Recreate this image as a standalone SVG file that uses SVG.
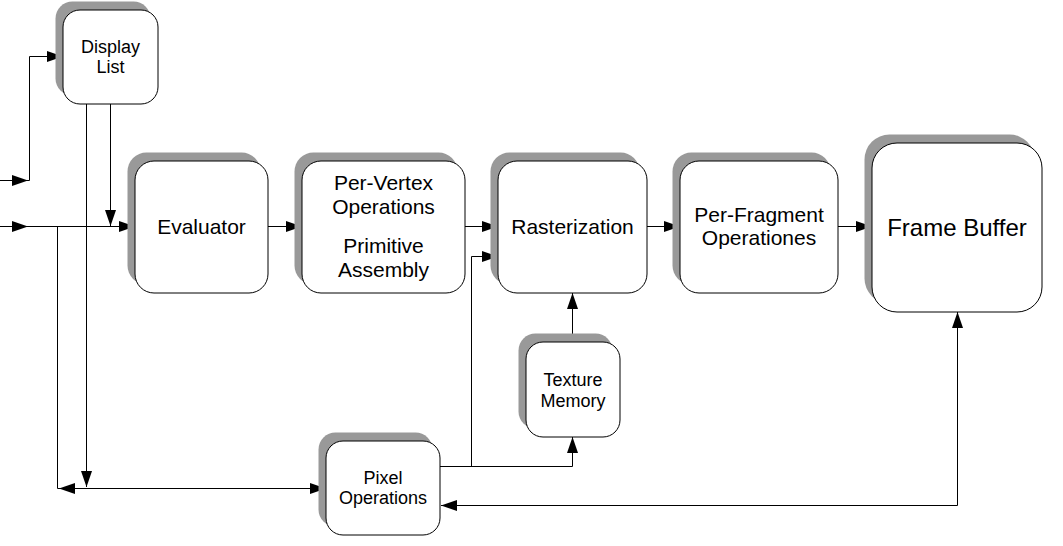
<svg xmlns="http://www.w3.org/2000/svg" xmlns:xlink="http://www.w3.org/1999/xlink" width="1063" height="546" viewBox="0 0 1063 546">
<style>
.sh{fill:#999999;stroke:none}
.bx{fill:#ffffff;stroke:#000000;stroke-width:1}
.t{font-family:"Liberation Sans",Arial,sans-serif;fill:#000000;text-anchor:middle}
.m{font-size:21px}
.s{font-size:18px}
.l{font-size:24px}
.c{fill:none;stroke:#000000;stroke-width:1}
.ah{fill:#000000;stroke:none}
</style>
<defs>
<path id="ah" d="M0,0 L-16,-5.5 L-16,5.5 Z"/>
</defs>
<rect width="1063" height="546" fill="#ffffff"/>

<g id="connectors">
<path class="c" d="M0,180.5 H29.5 V56.5 H63"/>
<path class="c" d="M0,226.5 H135"/>
<path class="c" d="M110.5,104 V226"/>
<path class="c" d="M86.5,104 V487"/>
<path class="c" d="M326,488.5 H57.5 V227"/>
<path class="c" d="M268,226.5 H302"/>
<path class="c" d="M465,226.5 H498"/>
<path class="c" d="M440,466.5 H572.5 V437"/>
<path class="c" d="M471.5,466.5 V256.5 H498"/>
<path class="c" d="M572.5,342 V293"/>
<path class="c" d="M647,226.5 H680"/>
<path class="c" d="M838,226.5 H872"/>
<path class="c" d="M441,505.5 H957.5 V312"/>
<use xlink:href="#ah" class="ah" transform="translate(28,180.5)"/>
<use xlink:href="#ah" class="ah" transform="translate(63,56.5)"/>
<use xlink:href="#ah" class="ah" transform="translate(28,226.5)"/>
<use xlink:href="#ah" class="ah" transform="translate(135,226.5)"/>
<use xlink:href="#ah" class="ah" transform="translate(110.5,226) rotate(90)"/>
<use xlink:href="#ah" class="ah" transform="translate(86.5,487) rotate(90)"/>
<use xlink:href="#ah" class="ah" transform="translate(59,488.5) rotate(180)"/>
<use xlink:href="#ah" class="ah" transform="translate(326,488.5)"/>
<use xlink:href="#ah" class="ah" transform="translate(302,226.5)"/>
<use xlink:href="#ah" class="ah" transform="translate(498,226.5)"/>
<use xlink:href="#ah" class="ah" transform="translate(498,256.5)"/>
<use xlink:href="#ah" class="ah" transform="translate(572.5,437) rotate(-90)"/>
<use xlink:href="#ah" class="ah" transform="translate(572.5,293) rotate(-90)"/>
<use xlink:href="#ah" class="ah" transform="translate(680,226.5)"/>
<use xlink:href="#ah" class="ah" transform="translate(872,226.5)"/>
<use xlink:href="#ah" class="ah" transform="translate(441,505.5) rotate(180)"/>
<use xlink:href="#ah" class="ah" transform="translate(957.5,312) rotate(-90)"/>
</g>

<g id="display-list">
<rect class="sh" x="55.5" y="1.5" width="95" height="94" rx="17"/>
<rect class="bx" x="63" y="10" width="95" height="94" rx="17"/>
<text class="t s" x="110.5" y="53">Display</text>
<text class="t s" x="110.5" y="73">List</text>
</g>

<g id="evaluator">
<rect class="sh" x="127.5" y="152.5" width="133" height="132" rx="19"/>
<rect class="bx" x="135" y="161" width="133" height="132" rx="19"/>
<text class="t m" x="201.5" y="234">Evaluator</text>
</g>

<g id="per-vertex">
<rect class="sh" x="294.5" y="152.5" width="163" height="132" rx="19"/>
<rect class="bx" x="302" y="161" width="163" height="132" rx="19"/>
<text class="t m" x="383.5" y="190">Per-Vertex</text>
<text class="t m" x="383.5" y="214">Operations</text>
<text class="t m" x="383.5" y="253">Primitive</text>
<text class="t m" x="383.5" y="277">Assembly</text>
</g>

<g id="rasterization">
<rect class="sh" x="490.5" y="152.5" width="149" height="132" rx="19"/>
<rect class="bx" x="498" y="161" width="149" height="132" rx="19"/>
<text class="t m" x="572.5" y="234">Rasterization</text>
</g>

<g id="per-fragment">
<rect class="sh" x="672.5" y="152.5" width="158" height="132" rx="19"/>
<rect class="bx" x="680" y="161" width="158" height="132" rx="19"/>
<text class="t m" x="759" y="222">Per-Fragment</text>
<text class="t m" x="759" y="245">Operationes</text>
</g>

<g id="frame-buffer">
<rect class="sh" x="864.5" y="134.5" width="170" height="169" rx="25"/>
<rect class="bx" x="872" y="143" width="170" height="169" rx="25"/>
<text class="t l" x="957" y="236">Frame Buffer</text>
</g>

<g id="texture-memory">
<rect class="sh" x="518.5" y="333.5" width="94" height="95" rx="17"/>
<rect class="bx" x="526" y="342" width="94" height="95" rx="17"/>
<text class="t s" x="573" y="386">Texture</text>
<text class="t s" x="573" y="407">Memory</text>
</g>

<g id="pixel-operations">
<rect class="sh" x="318.5" y="432.5" width="114" height="94" rx="17"/>
<rect class="bx" x="326" y="441" width="114" height="94" rx="17"/>
<text class="t s" x="383" y="484">Pixel</text>
<text class="t s" x="383" y="504">Operations</text>
</g>
</svg>
